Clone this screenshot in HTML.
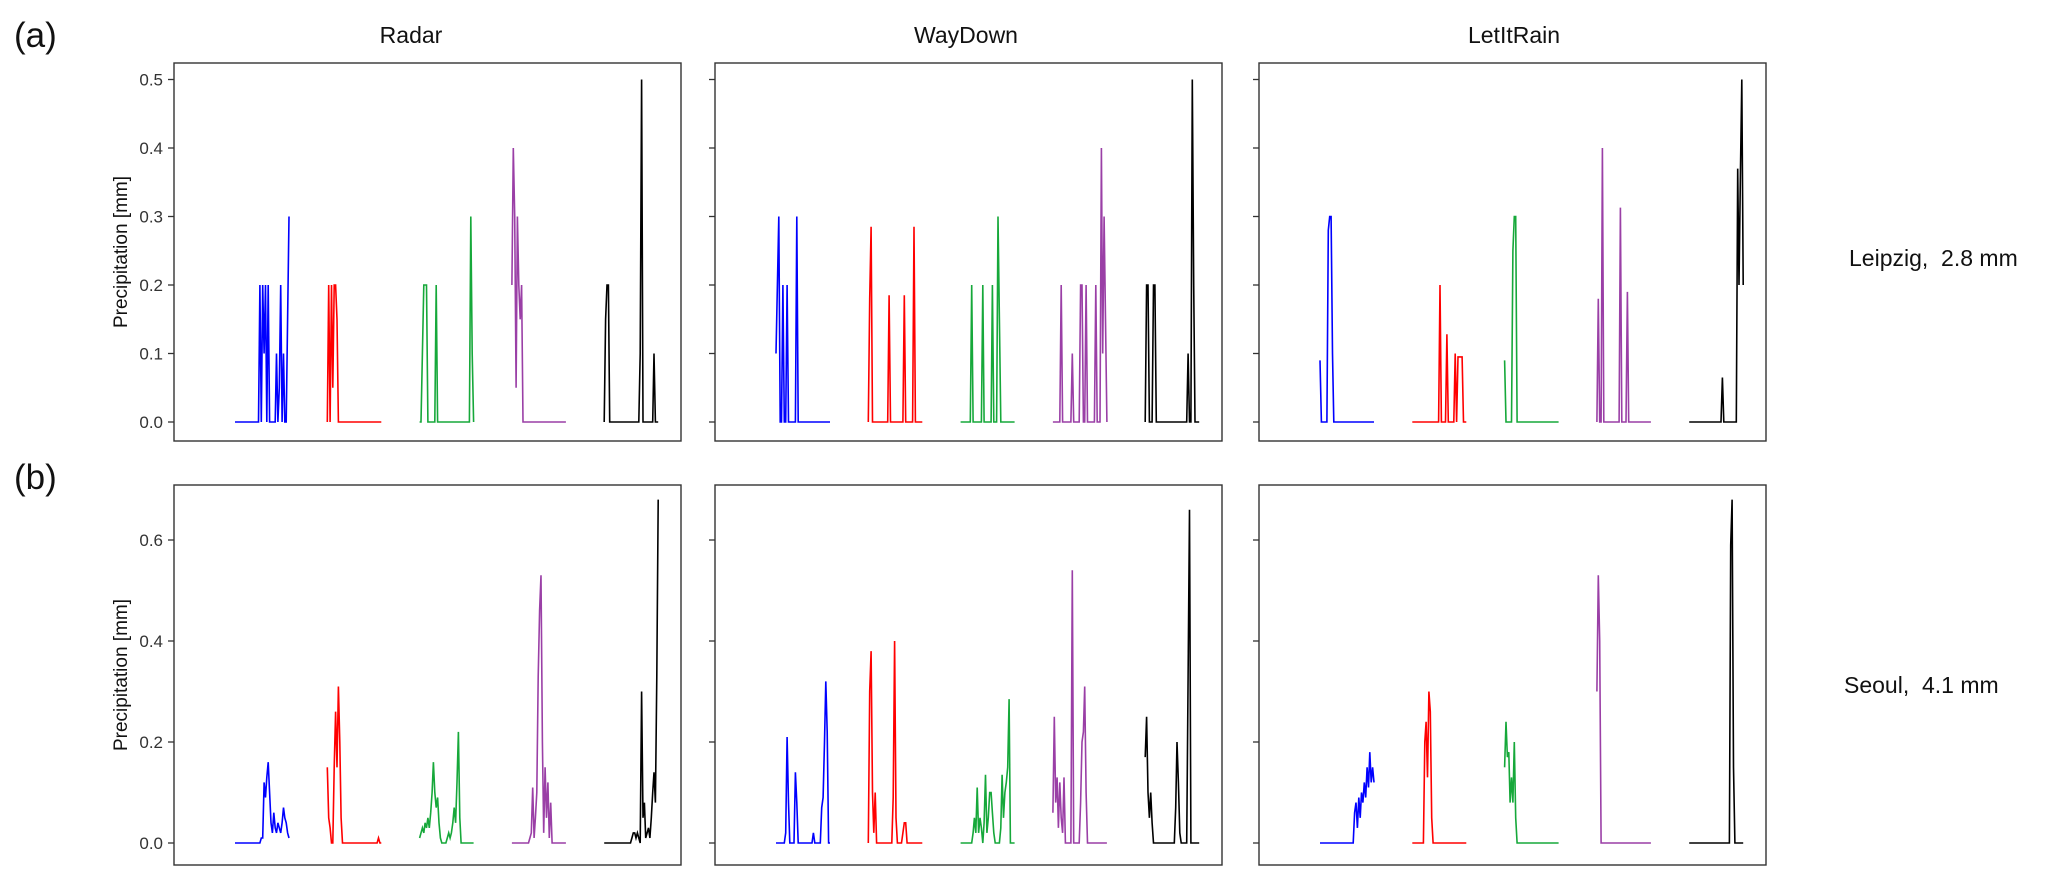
<!DOCTYPE html>
<html><head><meta charset="utf-8"><style>
html,body{margin:0;padding:0;background:#fff;}
svg{display:block;font-family:"Liberation Sans",Arial,sans-serif;}
</style></head><body>
<svg id="chart" width="2067" height="879" viewBox="0 0 2067 879" xmlns="http://www.w3.org/2000/svg">
<text x="14" y="47" font-size="35" fill="#111">(a)</text>
<text x="14" y="489" font-size="35" fill="#111">(b)</text>
<text x="411" y="43" font-size="23" text-anchor="middle" fill="#111">Radar</text>
<text x="966" y="43" font-size="23" text-anchor="middle" fill="#111">WayDown</text>
<text x="1514" y="43" font-size="23" text-anchor="middle" fill="#111">LetItRain</text>
<text x="1849" y="266" font-size="23" fill="#111" xml:space="preserve">Leipzig,  2.8 mm</text>
<text x="1844" y="693" font-size="23" fill="#111" xml:space="preserve">Seoul,  4.1 mm</text>
<g id="plots"></g>
</svg>
<script>
const groupNames = ["blue","red","green","purple","black"];
const groupColors = ["#0000ff","#ff0000","#16a83a","#9a3fa6","#000000"];
const ticksA = [0,0.1,0.2,0.3,0.4,0.5];
const tickLabelsA = ["0.0","0.1","0.2","0.3","0.4","0.5"];
const ticksB = [0,0.2,0.4,0.6];
const tickLabelsB = ["0.0","0.2","0.4","0.6"];

const a1b=[0,0,0,0,0,0,0,0,0,0,0,0,0,0,0,0,0,0,0.2,0,0.2,0.1,0.2,0,0.2,0,0,0,0,0,0.1,0,0.05,0.2,0,0.1,0,0,0.15,0.3];
const a1r=[0,0.2,0,0.2,0.05,0.2,0.2,0.15,0,0,0,0,0,0,0,0,0,0,0,0,0,0,0,0,0,0,0,0,0,0,0,0,0,0,0,0,0,0,0,0];
const a1g=[0,0,0.1,0.2,0.2,0.2,0,0,0,0,0,0,0.2,0,0,0,0,0,0,0,0,0,0,0,0,0,0,0,0,0,0,0,0,0,0,0,0,0.3,0.1,0];
const a1p=[0.2,0.4,0.3,0.05,0.3,0.2,0.15,0.2,0,0,0,0,0,0,0,0,0,0,0,0,0,0,0,0,0,0,0,0,0,0,0,0,0,0,0,0,0,0,0,0];
const a1k=[0,0.15,0.2,0.2,0,0,0,0,0,0,0,0,0,0,0,0,0,0,0,0,0,0,0,0,0,0,0.1,0.5,0,0,0,0,0,0,0,0,0.1,0,0,0];

const a2b=[0.1,0.2,0.3,0,0,0.2,0,0,0.2,0,0,0,0,0,0,0.3,0,0,0,0,0,0,0,0,0,0,0,0,0,0,0,0,0,0,0,0,0,0,0,0];
const a2r=[0,0.18,0.285,0,0,0,0,0,0,0,0,0,0,0,0,0.185,0,0,0,0,0,0,0,0,0,0,0.185,0,0,0,0,0,0,0.285,0,0,0,0,0,0];
const a2g=[0,0,0,0,0,0,0,0,0.2,0,0,0,0,0,0,0,0.2,0,0,0,0,0,0,0.2,0,0,0,0.3,0.15,0,0,0,0,0,0,0,0,0,0,0];
const a2p=[0,0,0,0,0,0,0.2,0,0,0,0,0,0,0,0.1,0,0,0,0,0,0.2,0.2,0,0,0.2,0,0,0,0,0,0,0.2,0,0,0,0.4,0.1,0.3,0.15,0];
const a2k=[0,0.2,0.2,0,0,0,0.2,0.2,0,0,0,0,0,0,0,0,0,0,0,0,0,0,0,0,0,0,0,0,0,0,0,0.1,0,0,0.5,0.2,0,0,0,0];

const a3b=[0.09,0,0,0,0,0,0.28,0.3,0.3,0.1,0,0,0,0,0,0,0,0,0,0,0,0,0,0,0,0,0,0,0,0,0,0,0,0,0,0,0,0,0,0];
const a3r=[0,0,0,0,0,0,0,0,0,0,0,0,0,0,0,0,0,0,0,0,0.2,0,0,0,0,0.128,0,0,0,0,0,0.1,0,0.095,0.095,0.095,0.095,0,0,0];
const a3g=[0.09,0,0,0,0,0,0.25,0.3,0.3,0,0,0,0,0,0,0,0,0,0,0,0,0,0,0,0,0,0,0,0,0,0,0,0,0,0,0,0,0,0,0];
const a3p=[0,0.18,0,0,0.4,0,0,0,0,0,0,0,0,0,0,0,0,0.313,0,0,0,0,0.19,0,0,0,0,0,0,0,0,0,0,0,0,0,0,0,0,0];
const a3k=[0,0,0,0,0,0,0,0,0,0,0,0,0,0,0,0,0,0,0,0,0,0,0,0,0.065,0,0,0,0,0,0,0,0,0,0,0.37,0.2,0.36,0.5,0.2];

const b1b=[0,0,0,0,0,0,0,0,0,0,0,0,0,0,0,0,0,0,0,0.01,0.01,0.12,0.09,0.13,0.16,0.1,0.04,0.02,0.06,0.03,0.02,0.04,0.03,0.02,0.04,0.07,0.05,0.04,0.02,0.01];
const b1r=[0.15,0.05,0.03,0,0,0.15,0.26,0.15,0.31,0.2,0.05,0,0,0,0,0,0,0,0,0,0,0,0,0,0,0,0,0,0,0,0,0,0,0,0,0,0,0.01,0,0];
const b1g=[0.01,0.02,0.03,0.02,0.04,0.03,0.05,0.03,0.06,0.1,0.16,0.1,0.07,0.09,0.04,0.01,0,0,0,0,0.01,0.02,0.01,0.02,0.04,0.07,0.04,0.12,0.22,0.05,0,0,0,0,0,0,0,0,0,0];
const b1p=[0,0,0,0,0,0,0,0,0,0,0,0,0,0.01,0.02,0.11,0.01,0.05,0.1,0.33,0.46,0.53,0.2,0.02,0.15,0.05,0.12,0.01,0.08,0,0,0,0,0,0,0,0,0,0,0];
const b1k=[0,0,0,0,0,0,0,0,0,0,0,0,0,0,0,0,0,0,0,0,0.01,0.02,0.02,0.01,0.02,0.01,0,0.3,0.05,0.08,0.01,0.02,0.03,0.01,0.05,0.1,0.14,0.08,0.33,0.68];

const b2b=[0,0,0,0,0,0,0,0.02,0.21,0.08,0,0,0,0,0.14,0.08,0,0,0,0,0,0,0,0,0,0,0,0.02,0,0,0,0,0,0.07,0.09,0.2,0.32,0.22,0,0];
const b2r=[0,0.3,0.38,0.1,0.02,0.1,0,0,0,0,0,0,0,0,0,0,0,0,0.09,0.4,0.05,0,0,0,0,0.02,0.04,0.04,0,0,0,0,0,0,0,0,0,0,0,0];
const b2g=[0,0,0,0,0,0,0,0,0,0.02,0.05,0.02,0.11,0.02,0.05,0.03,0,0.04,0.135,0.02,0.05,0.1,0.1,0.06,0.02,0,0,0,0,0.03,0.135,0.05,0.1,0.12,0.15,0.285,0,0,0,0];
const b2p=[0.06,0.25,0.08,0.13,0.03,0.12,0.05,0.02,0.13,0,0,0,0,0,0.54,0,0,0,0,0,0.08,0.2,0.22,0.31,0.1,0,0,0,0,0,0,0,0,0,0,0,0,0,0,0];
const b2k=[0.17,0.25,0.1,0.05,0.1,0.04,0,0,0,0,0,0,0,0,0,0,0,0,0,0,0,0,0.07,0.2,0.12,0.02,0,0,0,0,0,0.33,0.66,0,0,0,0,0,0,0];

const b3b=[0,0,0,0,0,0,0,0,0,0,0,0,0,0,0,0,0,0,0,0,0,0,0,0,0,0.06,0.08,0.03,0.09,0.05,0.1,0.08,0.12,0.09,0.15,0.11,0.18,0.12,0.15,0.12];
const b3r=[0,0,0,0,0,0,0,0,0,0.2,0.24,0.13,0.3,0.26,0.05,0,0,0,0,0,0,0,0,0,0,0,0,0,0,0,0,0,0,0,0,0,0,0,0,0];
const b3g=[0.15,0.24,0.17,0.18,0.08,0.13,0.08,0.2,0.05,0,0,0,0,0,0,0,0,0,0,0,0,0,0,0,0,0,0,0,0,0,0,0,0,0,0,0,0,0,0,0];
const b3p=[0.3,0.53,0.4,0,0,0,0,0,0,0,0,0,0,0,0,0,0,0,0,0,0,0,0,0,0,0,0,0,0,0,0,0,0,0,0,0,0,0,0,0];
const b3k=[0,0,0,0,0,0,0,0,0,0,0,0,0,0,0,0,0,0,0,0,0,0,0,0,0,0,0,0,0,0,0.59,0.68,0.15,0,0,0,0,0,0,0];

const panelSeries = [
  [a1b,a1r,a1g,a1p,a1k],[a2b,a2r,a2g,a2p,a2k],[a3b,a3r,a3g,a3p,a3k],
  [b1b,b1r,b1g,b1p,b1k],[b2b,b2r,b2g,b2p,b2k],[b3b,b3r,b3g,b3p,b3k]
];
const panelNames = ["radar-leipzig","waydown-leipzig","letitrain-leipzig","radar-seoul","waydown-seoul","letitrain-seoul"];

const NS="http://www.w3.org/2000/svg";
const plots=document.getElementById('plots');
const colLeft=[174,715,1259], panelW=507;
const rows=[{top:63,bottom:441,y0:422,perUnit:685,ticks:ticksA,labels:tickLabelsA},
            {top:485,bottom:865,y0:843,perUnit:505,ticks:ticksB,labels:tickLabelsB}];
function mk(tag,attrs){const e=document.createElementNS(NS,tag);for(const k in attrs)e.setAttribute(k,attrs[k]);return e;}
function yScale(r,v){return r.y0 - v*r.perUnit;}
function xScale(left,g,i,n){return left+61+g*92.3+i*(54/(n-1));}

for(let p=0;p<6;p++){
  const r=rows[Math.floor(p/3)], c=p%3, left=colLeft[c];
  const g0=mk('g',{});
  
  
  const rect=mk('rect',{x:left,y:r.top,width:panelW,height:r.bottom-r.top,fill:'none',stroke:'#333','stroke-width':1.4});
  
  
  g0.appendChild(rect);
  r.ticks.forEach((t,k)=>{
    const y=yScale(r,t);
    const tk=mk('line',{x1:left-6,x2:left,y1:y,y2:y,stroke:'#333','stroke-width':1.3});
    
    
    g0.appendChild(tk);
    if(c===0){
      const tl=mk('text',{x:left-11,y:y+6,'font-size':17,'text-anchor':'end',fill:'#333'});
      tl.textContent=r.labels[k];
      
      
      g0.appendChild(tl);
    }
  });
  if(c===0){
    const cy=(r.top+r.bottom)/2;
    const at=mk('text',{x:127,y:cy,'font-size':19,'text-anchor':'middle',fill:'#111',transform:'rotate(-90 127 '+cy+')'});
    at.textContent='Precipitation [mm]';
    
    
    g0.appendChild(at);
  }
  panelSeries[p].forEach((vals,g)=>{
    const pts=vals.map((v,i)=>xScale(left,g,i,vals.length).toFixed(1)+','+yScale(r,v).toFixed(1)).join(' ');
    const pl=mk('polyline',{points:pts,fill:'none',stroke:groupColors[g],'stroke-width':1.6,'stroke-linejoin':'miter'});
    
    
    g0.appendChild(pl);
  });
  plots.appendChild(g0);
}
</script>
</body></html>
